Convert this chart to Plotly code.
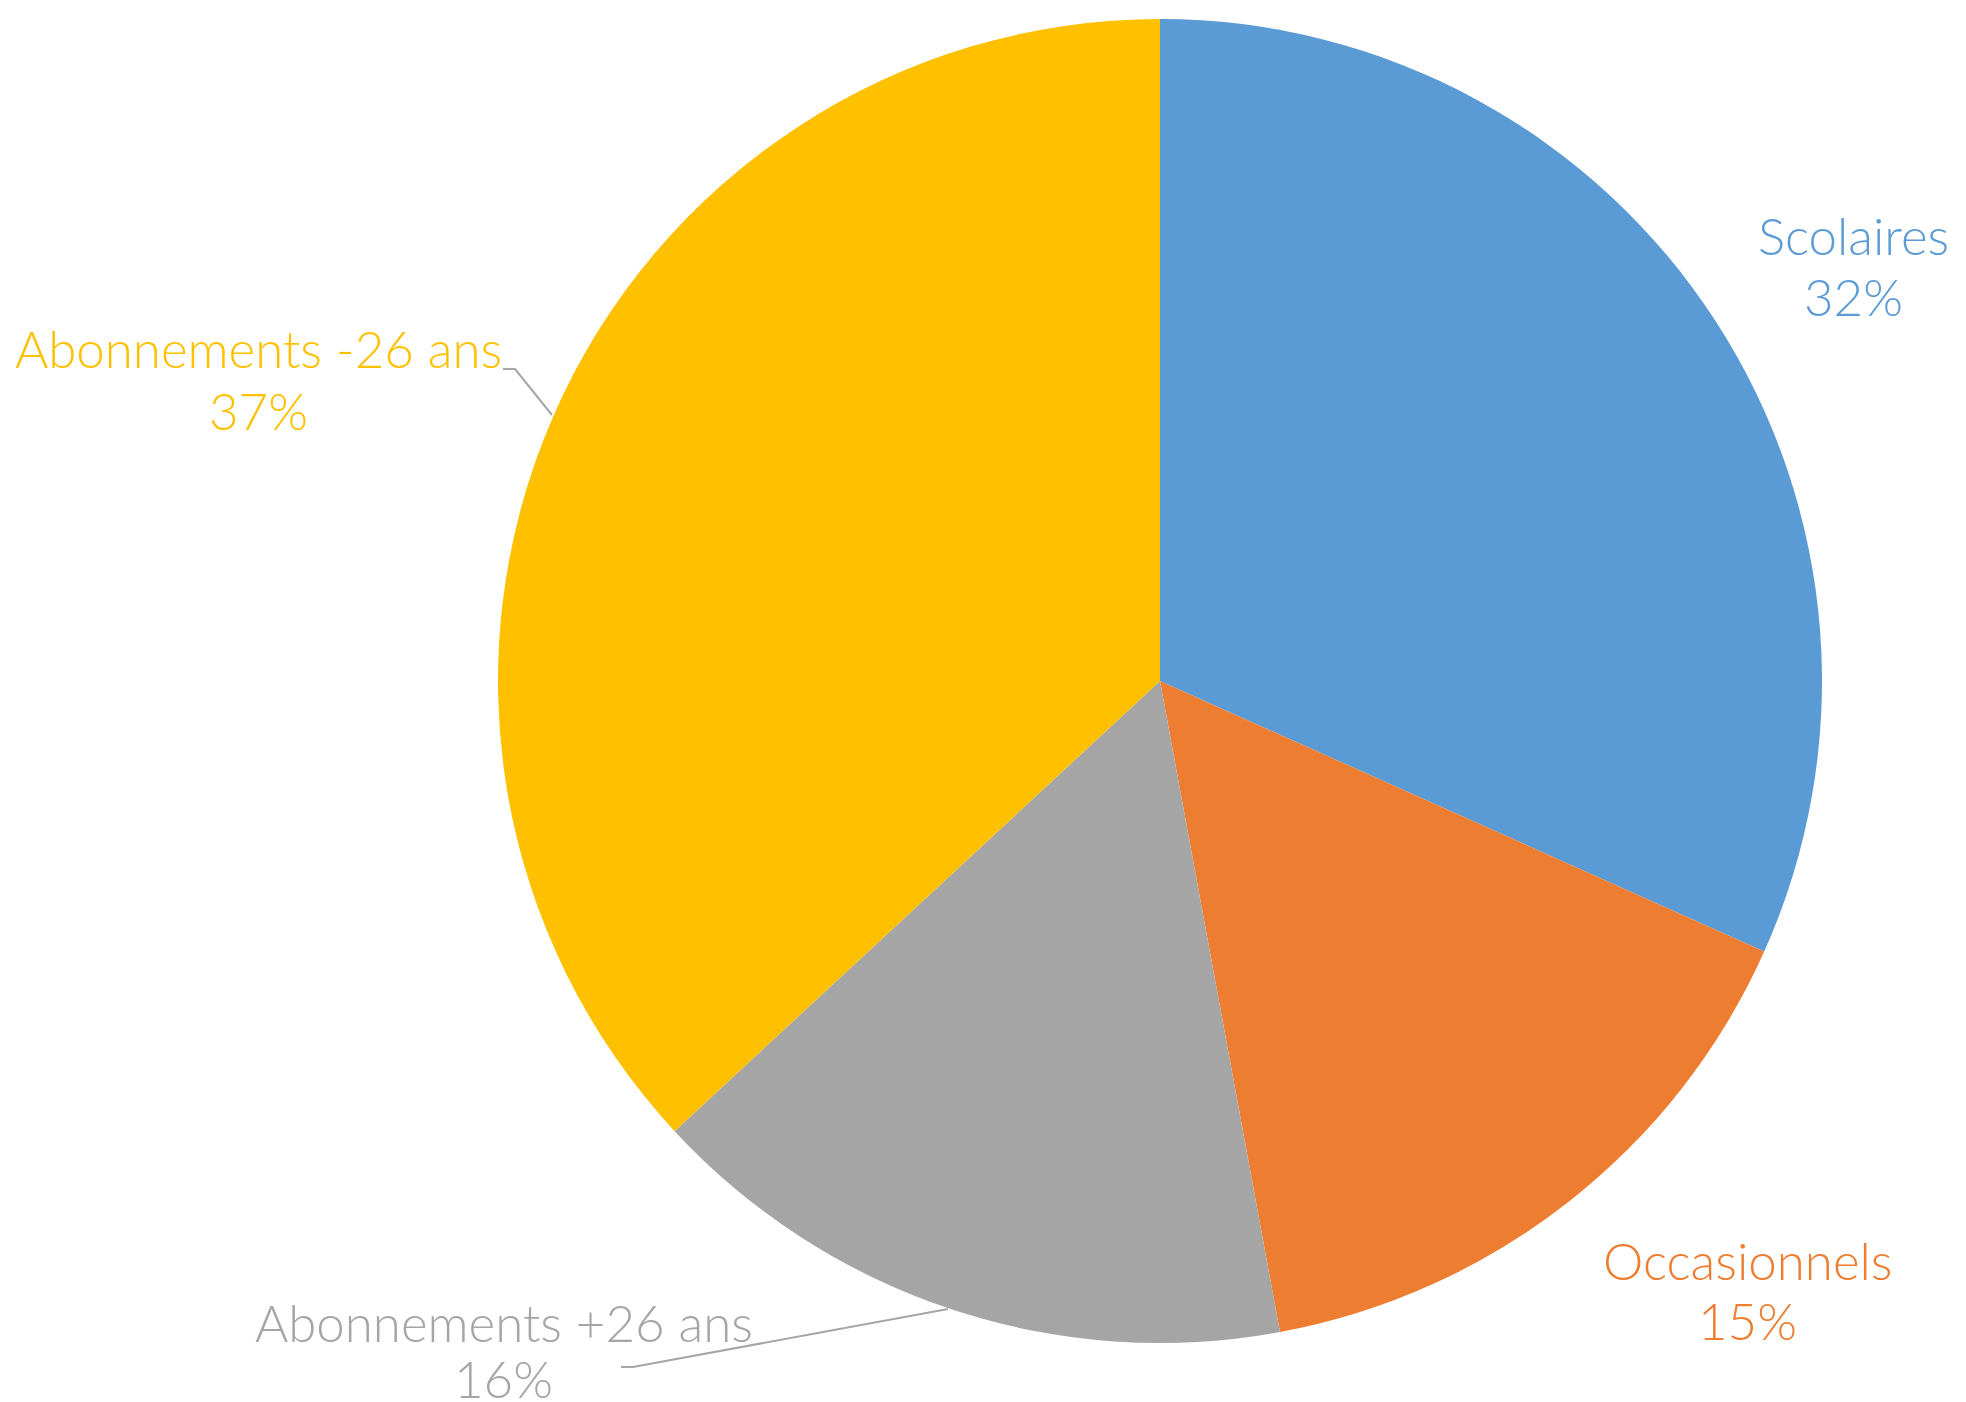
import plotly.graph_objects as go

# Data
categories = ["Scolaires", "Occasionnels", "Abonnements +26 ans", "Abonnements -26 ans"]
values = [31.7, 15.4, 16.0, 36.9]
colors = ["#5B9BD5", "#ED7D31", "#A5A5A5", "#FFC000"]

W, H = 1966, 1402
OFF = 8  # page body margin


def px(x):
    return (x - OFF) / W


def py(y):
    return 1 - (y - OFF) / H


CX, CY, R = 1160, 681, 662

fig = go.Figure()
fig.add_trace(go.Pie(
    labels=categories,
    values=values,
    sort=False,
    direction="clockwise",
    rotation=0,
    marker=dict(colors=colors, line=dict(width=0)),
    textinfo="none",
    hoverinfo="label+percent",
    showlegend=False,
    domain=dict(x=[px(CX - R), px(CX + R)], y=[py(CY + R), py(CY - R)]),
))

# Label line centres (x, y of name line, y of percent line)
label_pos = {
    "Scolaires": (1853, 236, 297),
    "Occasionnels": (1747, 1260, 1320),
    "Abonnements +26 ans": (504, 1322, 1378),
    "Abonnements -26 ans": (258, 349, 410),
}
total = sum(values)
for cat, val, col in zip(categories, values, colors):
    x, y1, y2 = label_pos[cat]
    for txt, yy in ((cat, y1), (f"{round(100 * val / total)}%", y2)):
        fig.add_annotation(
            x=px(x), y=py(yy), xref="paper", yref="paper",
            xanchor="center", yanchor="middle", showarrow=False,
            text=txt,
            font=dict(family="Lato", size=51, color=col, weight=300),
        )

# Leader lines
def path(pts):
    s = ""
    for i, (x, y) in enumerate(pts):
        s += ("M" if i == 0 else "L") + f" {px(x)} {py(y)} "
    return s

leaders = [
    [(503, 369), (515, 369), (552, 415)],
    [(621, 1367), (633, 1367), (948, 1309)],
]
for pts in leaders:
    fig.add_shape(type="path", xref="paper", yref="paper", path=path(pts),
                  line=dict(color="#A6A6A6", width=2))

fig.update_layout(
    width=W, height=H,
    margin=dict(l=0, r=0, t=0, b=0),
    paper_bgcolor="white", plot_bgcolor="white",
)

fig.write_html("out.html")
